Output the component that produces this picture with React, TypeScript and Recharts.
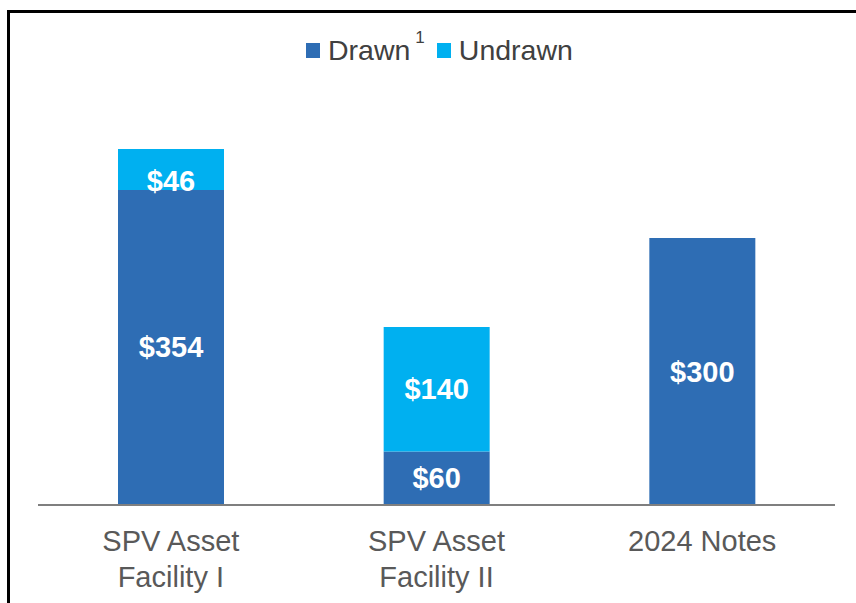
import React from "react";
import { BarChart, Bar, XAxis, YAxis, Legend, LabelList } from "recharts";

const categories = ["SPV Asset\nFacility I", "SPV Asset\nFacility II", "2024 Notes"];
const drawn = [354, 60, 300];
const undrawn = [46, 140, 0];

const DRAWN = "#2E6DB4";
const UNDRAWN = "#00B0F0";
const FONT = "'Liberation Sans', Arial, sans-serif";

const chartData = categories.map((name, i) => ({
  name,
  Drawn: drawn[i],
  Undrawn: undrawn[i],
}));

function ValueLabel(props: any) {
  const { x, y, width, height, value } = props;
  if (!value) return null;
  const cx = x + width / 2;
  // short segments: text sits on the segment's bottom edge, like the original
  const small = height < 45;
  return (
    <text
      x={cx}
      y={small ? y + height + 1 : y + height / 2}
      dominantBaseline={small ? "auto" : "central"}
      textAnchor="middle"
      fill="#ffffff"
      fontWeight="bold"
      fontSize={29}
      fontFamily={FONT}
    >
      ${value}
    </text>
  );
}

function CategoryTick(props: any) {
  const { x, y, payload } = props;
  const lines = String(payload.value).split("\n");
  return (
    <text x={x} y={y} textAnchor="middle" fill="#595959" fontSize={29} fontFamily={FONT}>
      {lines.map((l, i) => (
        <tspan key={i} x={x} dy={i === 0 ? 38 : 36}>
          {l}
        </tspan>
      ))}
    </text>
  );
}

function TopLegend() {
  const sq = (c: string) => (
    <span style={{ display: "inline-block", width: 14, height: 15, background: c, marginRight: 8 }} />
  );
  return (
    <div
      style={{
        height: 40,
        display: "flex",
        alignItems: "center",
        paddingLeft: 306,
        fontFamily: FONT,
        fontSize: 28.5,
        color: "#404040",
      }}
    >
      {sq(DRAWN)}
      <span>Drawn</span>
      <span style={{ fontSize: 17, position: "relative", top: -12, marginLeft: 5, marginRight: 12 }}>1</span>
      {sq(UNDRAWN)}
      <span>Undrawn</span>
    </div>
  );
}

export default function App() {
  return (
    <div style={{ position: "absolute", left: 0, top: 0, width: 856, height: 603, background: "#fff", overflow: "hidden" }}>
      <div
        style={{
          position: "absolute",
          left: 7,
          top: 10,
          width: 900,
          height: 700,
          borderLeft: "3px solid #000",
          borderTop: "3px solid #000",
        }}
      />
      <div style={{ position: "absolute", left: 0, top: 0 }}>
        <BarChart width={856} height={603} data={chartData} margin={{ top: 109, right: 21, left: 38, bottom: 8 }}>
          <Legend
            verticalAlign="top"
            content={<TopLegend />}
            wrapperStyle={{ top: 30, left: 0, width: 856 }}
          />
          <XAxis
            dataKey="name"
            axisLine={{ stroke: "#7f7f7f", strokeWidth: 2 }}
            tickLine={false}
            height={90}
            interval={0}
            tick={<CategoryTick />}
          />
          <YAxis hide domain={[0, 400]} />
          <Bar dataKey="Drawn" stackId="a" fill={DRAWN} barSize={106} isAnimationActive={false}>
            <LabelList dataKey="Drawn" content={<ValueLabel />} />
          </Bar>
          <Bar dataKey="Undrawn" stackId="a" fill={UNDRAWN} barSize={106} isAnimationActive={false}>
            <LabelList dataKey="Undrawn" content={<ValueLabel />} />
          </Bar>
        </BarChart>
      </div>
    </div>
  );
}
